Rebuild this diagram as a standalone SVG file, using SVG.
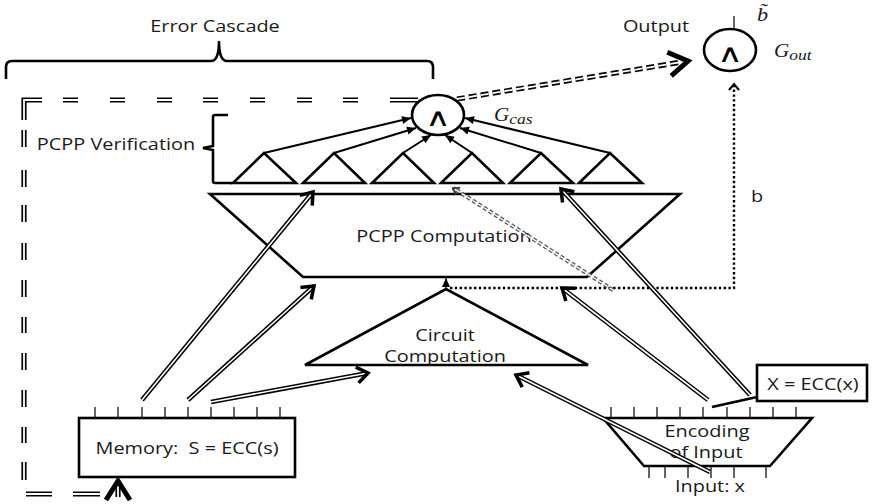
<svg xmlns="http://www.w3.org/2000/svg" width="873" height="504" viewBox="0 0 873 504">
<style>
.t{font-family:"Open Sans","Liberation Sans",sans-serif;font-size:17px;fill:#1a1a1a}
.m{font-family:"Liberation Serif","DejaVu Serif",serif;font-style:italic;fill:#1a1a1a}
.and{font-family:"DejaVu Sans",sans-serif;font-size:25px;fill:#000}
.sh{fill:none;stroke:#000;stroke-width:2.6;stroke-linejoin:miter}
.tk{fill:none;stroke:#000;stroke-width:1.2}
.ln{fill:none;stroke:#000;stroke-width:2}
.dbo{fill:none;stroke:#000;stroke-width:4.6}
.dbi{fill:none;stroke:#fff;stroke-width:1.6}
.cas-o{fill:none;stroke:#000;stroke-width:5.2}
.cas-i{fill:none;stroke:#fff;stroke-width:1.8}
.dot{fill:none;stroke:#000;stroke-width:2.4;stroke-dasharray:2.4 2.4}
</style>
<defs>
<marker id="chev" markerUnits="userSpaceOnUse" orient="auto" refX="0" refY="0" markerWidth="30" markerHeight="30" overflow="visible"><path d="M-11,-8 L0,0 L-11,8" fill="none" stroke="#000" stroke-width="3.5"/></marker>
<marker id="big" markerUnits="userSpaceOnUse" orient="auto" refX="0" refY="0" markerWidth="40" markerHeight="40" overflow="visible"><path d="M-19,-12 L0,0 L-19,12" fill="none" stroke="#000" stroke-width="5"/></marker>
<marker id="tri" markerUnits="userSpaceOnUse" orient="auto" refX="0" refY="0" markerWidth="20" markerHeight="20" overflow="visible"><path d="M-9,-4 L0,0 L-9,4 z" fill="#000"/></marker>
<marker id="sm" markerUnits="userSpaceOnUse" orient="auto" refX="0" refY="0" markerWidth="20" markerHeight="20" overflow="visible"><path d="M-6,-5 L0,0 L-6,5" fill="none" stroke="#000" stroke-width="2"/></marker>
<marker id="smg" markerUnits="userSpaceOnUse" orient="auto" refX="0" refY="0" markerWidth="20" markerHeight="20" overflow="visible"><path d="M-6,-4 L0,0 L-6,4" fill="none" stroke="#333" stroke-width="1.8"/></marker>
</defs>

<g id="error-cascade-label">
<path class="sh" d="M6 79 V67 Q6 61 12 61 H211 Q219 61 219 41 Q219 61 227 61 H427 Q433 61 433 67 V79"/>
<text class="t" transform="translate(215,32) scale(1.17,1)" text-anchor="middle">Error Cascade</text>
</g>

<g id="output-label">
<text class="t" transform="translate(656,32) scale(1.17,1)" text-anchor="middle">Output</text>
</g>

<g id="g-out">
<ellipse class="sh" cx="730" cy="50" rx="26" ry="21"/>
<line class="tk" x1="734" y1="16" x2="734" y2="29"/>
<text class="and" transform="translate(730,62) scale(1.4,1)" text-anchor="middle">∧</text>
<text class="m" font-size="19" transform="translate(757,21) scale(1.17,1)">b̃</text>
<text class="m" font-size="18" transform="translate(774,57) scale(1.17,1)">G<tspan font-size="15" dy="3">out</tspan></text>
</g>

<g id="g-cas">
<ellipse class="sh" cx="438" cy="115" rx="26" ry="20"/>
<text class="and" transform="translate(438,126) scale(1.4,1)" text-anchor="middle">∧</text>
<text class="m" font-size="18" transform="translate(494,121) scale(1.17,1)">G<tspan font-size="15" dy="3">cas</tspan></text>
</g>

<g id="pcpp-verification">
<path class="sh" d="M228 115 H215 Q213 115 213 117 V146 L203 148 L213 150 V181 Q213 183 215 183 H232"/>
<text class="t" transform="translate(116,150) scale(1.17,1)" text-anchor="middle">PCPP Verification</text>
<polygon class="sh" points="233,183 264,153 296,183"/>
<polygon class="sh" points="303,183 334,153 365,183"/>
<polygon class="sh" points="372,183 403,153 434,183"/>
<polygon class="sh" points="441,183 472,153 503,183"/>
<polygon class="sh" points="510,183 541,153 573,183"/>
<polygon class="sh" points="579,183 610,153 642,183"/>
</g>

<g id="pcpp-computation">
<polygon class="sh" points="210,194 680,194 587,277 303,277"/>
<text class="t" transform="translate(444,242) scale(1.17,1)" text-anchor="middle">PCPP Computation</text>
</g>

<g id="circuit-computation">
<polygon class="sh" points="305,365 446,289 588,365"/>
<text class="t" transform="translate(445,341) scale(1.17,1)" text-anchor="middle">Circuit</text>
<text class="t" transform="translate(445,362) scale(1.17,1)" text-anchor="middle">Computation</text>
</g>

<g id="memory">
<rect class="sh" x="79" y="418" width="216" height="59"/>
<path class="tk" d="M95 407V418M118 407V418M142 407V418M165 407V418M188 407V418M211 407V418M234 407V418M257 407V418M280 407V418"/>
<text class="t" transform="translate(187,454) scale(1.17,1)" text-anchor="middle">Memory:&#160; S = ECC(s)</text>
</g>

<g id="encoding">
<polygon class="sh" points="603,418 812,418 770,466 644,466"/>
<path class="tk" d="M611 407V418M634 407V418M657 407V418M680 407V418M703 407V418M727 407V418M750 407V418M773 407V418M796 407V418"/>
<path class="tk" d="M649 466V478M665 466V478M688 466V478M711 466V478M734 466V478M766 466V478"/>
<text class="t" transform="translate(707,437) scale(1.17,1)" text-anchor="middle">Encoding</text>
<text class="t" transform="translate(706,458) scale(1.17,1)" text-anchor="middle">of Input</text>
<text class="t" transform="translate(710,492) scale(1.17,1)" text-anchor="middle">Input: x</text>
</g>

<g id="x-ecc">
<rect class="sh" x="757" y="365" width="110" height="36"/>
<text class="t" transform="translate(813,390) scale(1.17,1)" text-anchor="middle">X = ECC(x)</text>
</g>

<g id="b-label">
<text class="t" transform="translate(757,202) scale(1.17,1)" text-anchor="middle">b</text>
</g>

<g id="connectors">
<path class="ln" d="M264 153 L411 118" marker-end="url(#tri)"/>
<path class="ln" d="M334 153 L416 128" marker-end="url(#tri)"/>
<path class="ln" d="M403 153 L431 135" marker-end="url(#tri)"/>
<path class="ln" d="M472 153 L445 135" marker-end="url(#tri)"/>
<path class="ln" d="M541 153 L460 128" marker-end="url(#tri)"/>
<path class="ln" d="M610 153 L465 118" marker-end="url(#tri)"/>
<path class="tk" d="M446 289 V278" marker-end="url(#tri)"/>
<path class="dot" d="M450 288 H734 V84" marker-end="url(#sm)"/>
<path fill="none" stroke="#555" stroke-width="4" stroke-dasharray="4 2.5" d="M613 290 L453 188"/>
<path fill="none" stroke="#fff" stroke-width="1.4" stroke-dasharray="4 2.5" d="M613 290 L453 188" marker-end="url(#smg)"/>
<path class="dbo" d="M142 400 L313 192"/><path class="dbi" d="M142 400 L313 192" marker-end="url(#chev)"/>
<path class="dbo" d="M188 400 L314 286"/><path class="dbi" d="M188 400 L314 286" marker-end="url(#chev)"/>
<path class="dbo" d="M211 402 L368 373"/><path class="dbi" d="M211 402 L368 373" marker-end="url(#chev)"/>
<path class="dbo" d="M708 400 L562 288"/><path class="dbi" d="M708 400 L562 288" marker-end="url(#chev)"/>
<path class="dbo" d="M750 395 L561 189"/><path class="dbi" d="M750 395 L561 189" marker-end="url(#chev)"/>
<path class="dbo" d="M710 472 L516 375"/><path class="dbi" d="M710 472 L516 375" marker-end="url(#chev)"/>
<path class="sh" d="M712 407 L757 397"/>
<path class="cas-o" stroke-dasharray="8 4" d="M457 99 L688 61"/>
<path class="cas-i" stroke-dasharray="8 4" d="M457 99 L688 61" marker-end="url(#big)"/>
<path class="cas-o" d="M418 100 H390 M358 100 H343 M312 100 H297 M265 100 H250 M218 100 H203 M172 100 H157 M125 100 H110 M78 100 H63 M42 100 H24 V120 M24 130 V147 M24 170 V187 M24 205 V222 M24 243 V260 M24 280 V297 M24 317 V333 M24 353 V370 M24 390 V407 M24 427 V443 M24 462 V480 M26 494 H52 M73 494 H100"/>
<path class="cas-i" d="M418 100 H390 M358 100 H343 M312 100 H297 M265 100 H250 M218 100 H203 M172 100 H157 M125 100 H110 M78 100 H63 M42 100 H24 V120 M24 130 V147 M24 170 V187 M24 205 V222 M24 243 V260 M24 280 V297 M24 317 V333 M24 353 V370 M24 390 V407 M24 427 V443 M24 462 V480 M26 494 H52 M73 494 H100"/>
<path class="cas-o" d="M118 497 V481"/>
<path class="cas-i" d="M118 497 V481" marker-end="url(#big)"/>
</g>
</svg>
